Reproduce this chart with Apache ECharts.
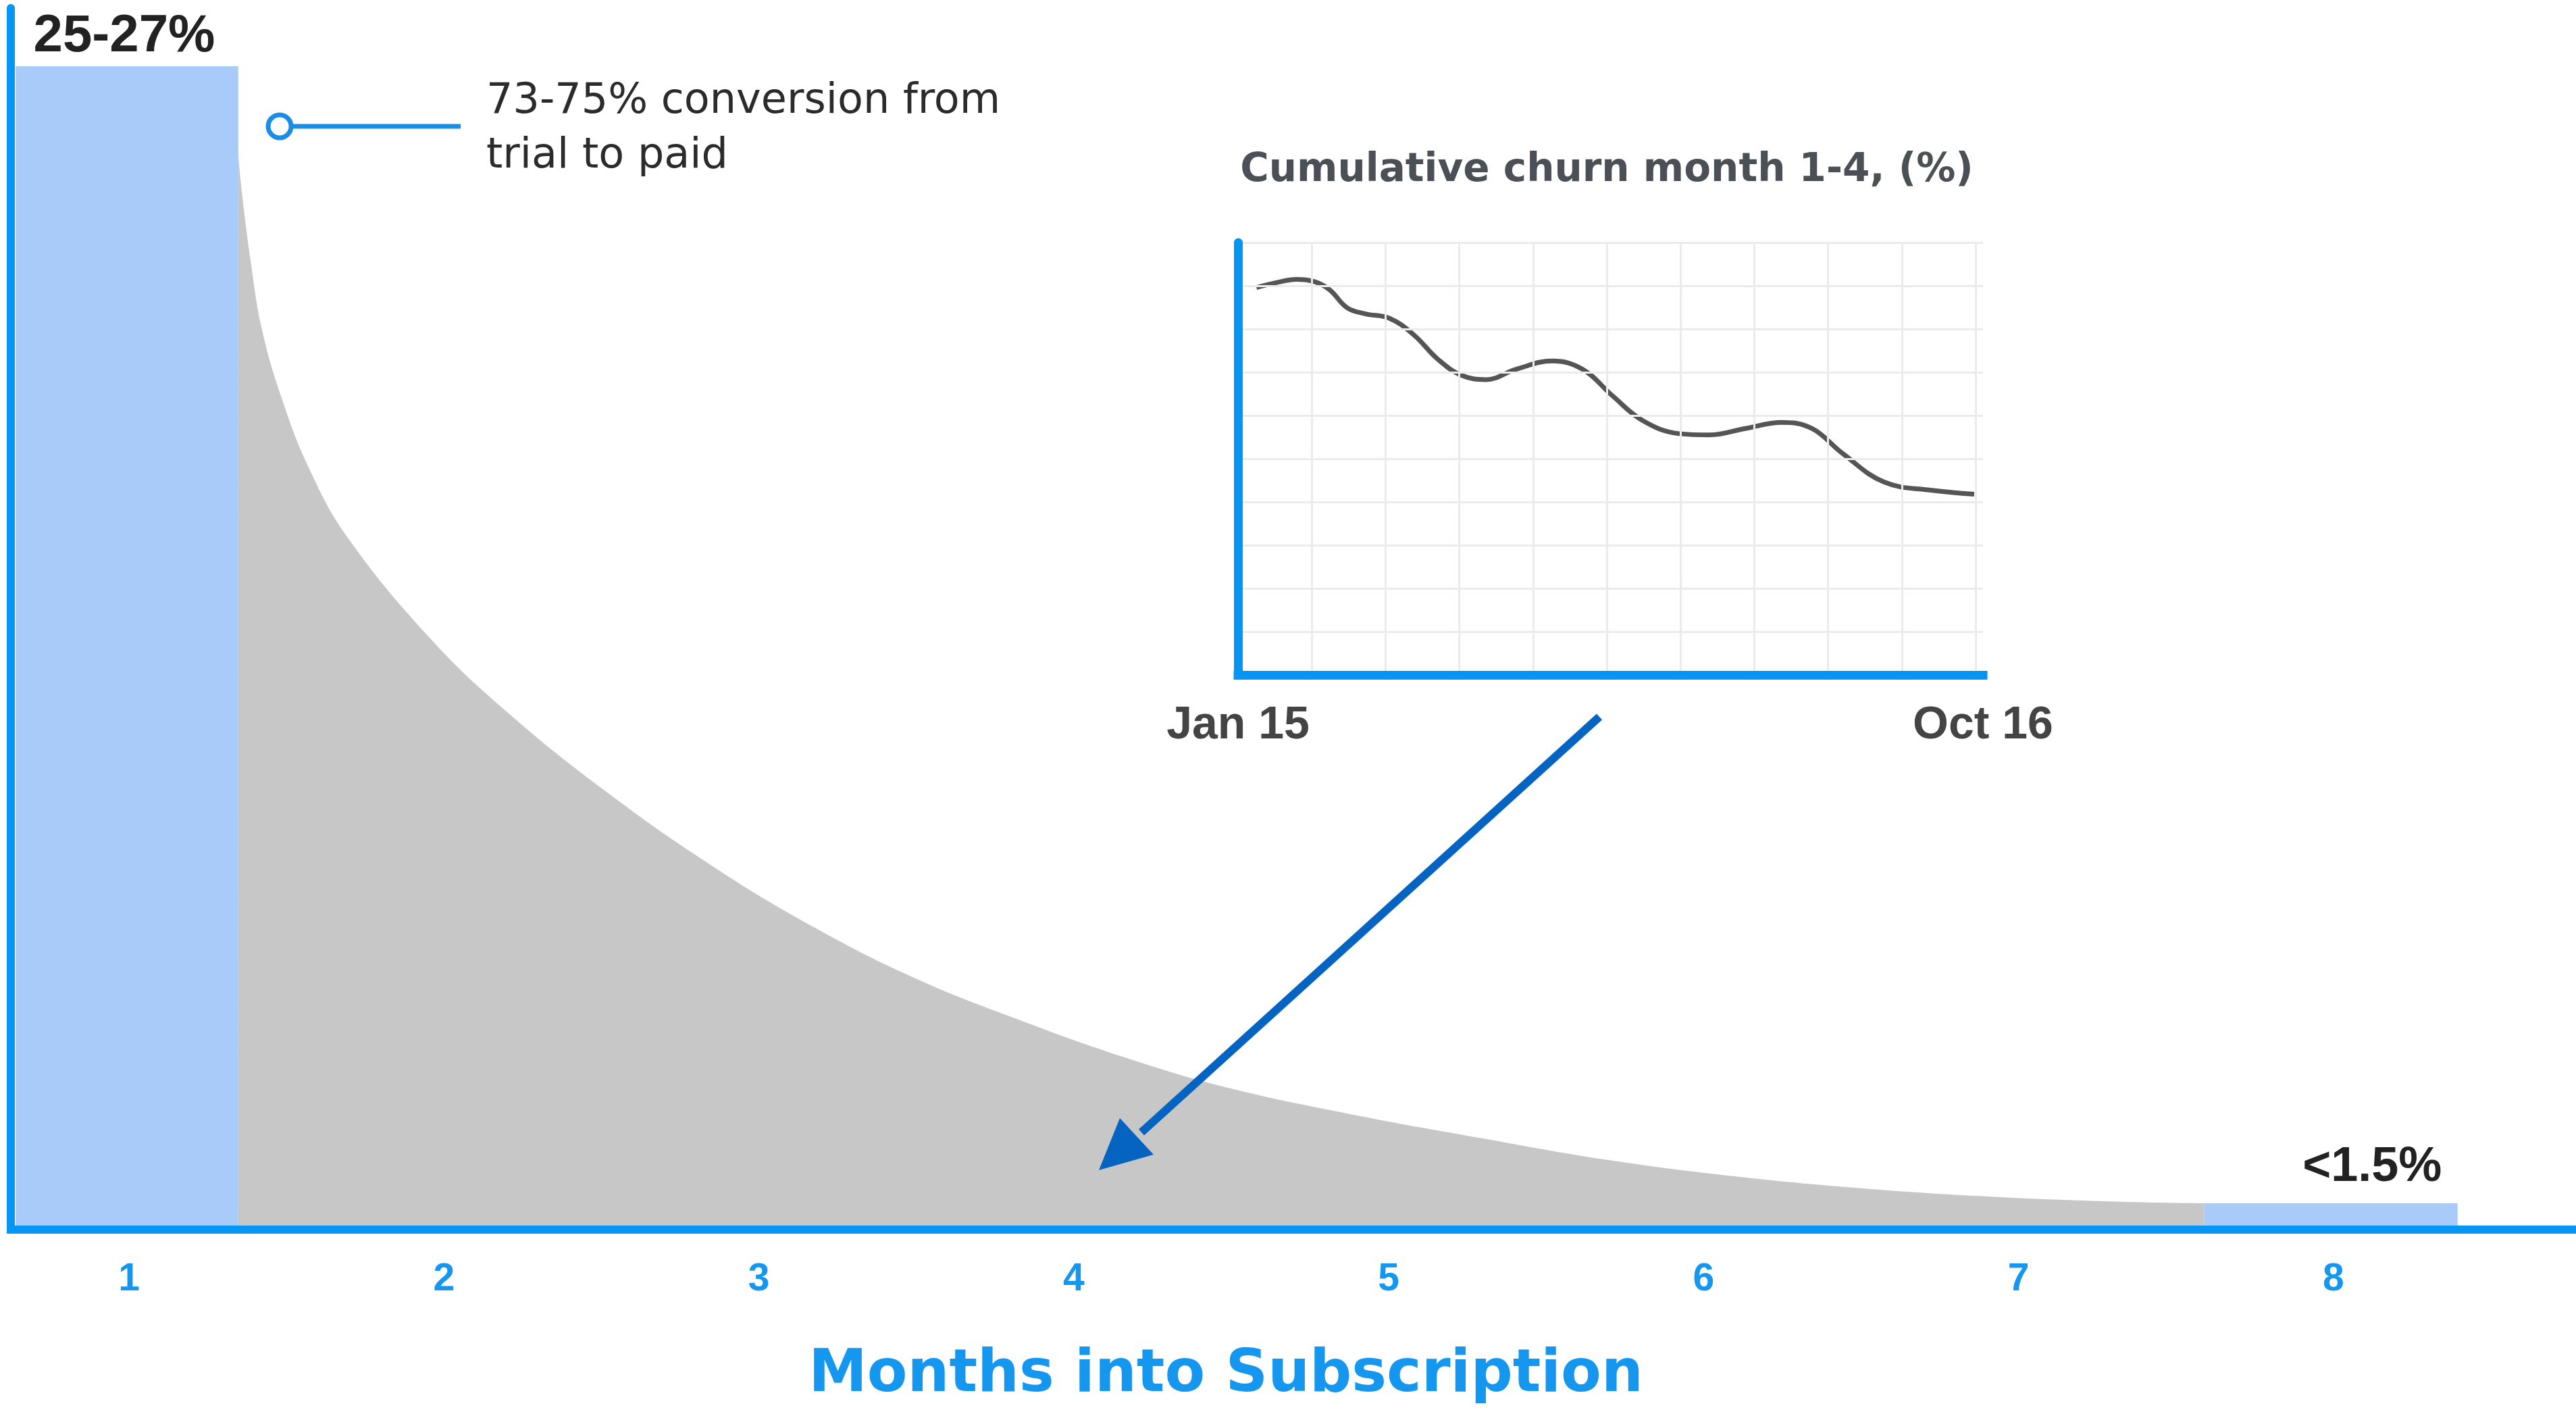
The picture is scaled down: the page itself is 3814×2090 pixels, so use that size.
<!DOCTYPE html>
<html>
<head>
<meta charset="utf-8">
<title>Months into Subscription</title>
<script src="https://cdn.jsdelivr.net/npm/echarts@6/dist/echarts.min.js"></script>
<style>
  html, body { margin: 0; padding: 0; background: #fff; }
  #chart { width: 3814px; height: 2090px; }
</style>
</head>
<body>
<div id="chart"></div>
<script>
// main chart: months into subscription
const months = [1, 2, 3, 4, 5, 6, 7, 8]
const barStart = [0.64, 7.59]
const barEnd = [1.347, 8.394]
const barValue = [26, 0.59]
const barLabels = ['25-27%', '<1.5%']

// grey decay area between the two bars
const curveX = [1.347, 1.358, 1.386, 1.422, 1.485, 1.57, 1.691, 1.954, 2.195, 2.52, 2.849, 3.177,
  3.505, 3.833, 4.161, 4.489, 4.879, 5.289, 5.701, 6.11, 6.522, 6.932, 7.341, 7.59]
const curveY = [24.02, 23.21, 21.66, 20.12, 18.58, 17.04, 15.5, 13.23, 11.6, 9.76, 8.14, 6.75,
  5.59, 4.67, 3.85, 3.17, 2.58, 2.05, 1.55, 1.18, 0.91, 0.73, 0.62, 0.59]

// inset: cumulative churn month 1-4
const churnX = [0.25, 0.54, 0.79, 1.03, 1.24, 1.48, 1.73, 2.05, 2.38, 2.71, 3.03, 3.36, 3.77,
  4.26, 4.67, 5.08, 5.49, 5.98, 6.39, 6.88, 7.37, 7.78, 8.19, 8.76, 9.41, 9.98]
const churnY = [8.96, 9.08, 9.15, 9.1, 8.91, 8.49, 8.35, 8.25, 7.87, 7.3, 6.93, 6.83, 7.07,
  7.26, 7.07, 6.45, 5.88, 5.58, 5.55, 5.7, 5.84, 5.7, 5.13, 4.46, 4.27, 4.18]
const churnTicks = ['Jan 15', 'Oct 16']
const churnGrid = [0, 1, 2, 3, 4, 5, 6, 7, 8, 9, 10]

const axisBlue = '#0596f5'
const labelBlue = '#1597ef'
const barBlue = '#a9cbfa'
const areaGrey = '#c7c7c7'
const arrowBlue = '#0563c1'
const noteBlue = '#1a8ee6'

const labelOffsets = [[-4, 0], [61, 0]]
const labelDistances = [5, 17]

const chart = echarts.init(document.getElementById('chart'), null, { renderer: 'canvas' })

const option = {
  animation: false,
  backgroundColor: '#fff',
  title: {
    text: 'Cumulative churn month 1-4, (%)',
    left: 2379,
    top: 224,
    padding: 0,
    textAlign: 'center',
    textStyle: { fontFamily: 'DejaVu Sans', fontWeight: 'bold', fontSize: 58, color: '#4b4f56' }
  },
  grid: [
    { left: 16, right: 0, top: 12, bottom: 270 },
    { left: 1833, right: 878, top: 359, bottom: 1091 }
  ],
  xAxis: [
    {
      type: 'value',
      gridIndex: 0,
      min: 0.6247,
      max: 8.77,
      z: 5,
      axisLine: { show: true, lineStyle: { color: axisBlue, width: 12, cap: 'square' } },
      axisTick: { show: false },
      splitLine: { show: false },
      axisLabel: {
        customValues: months,
        margin: 46,
        color: labelBlue,
        fontFamily: 'Liberation Sans',
        fontWeight: 'bold',
        fontSize: 57
      },
      name: 'Months into Subscription',
      nameLocation: 'middle',
      nameGap: 173,
      nameTextStyle: {
        color: labelBlue,
        fontFamily: 'DejaVu Sans',
        fontWeight: 'bold',
        fontSize: 87,
        padding: [0, 200, 0, 0]
      }
    },
    {
      type: 'value',
      gridIndex: 1,
      min: 0,
      max: 10.1,
      z: 5,
      axisLine: { show: true, lineStyle: { color: axisBlue, width: 13, cap: 'square' } },
      axisTick: { show: false, customValues: churnGrid },
      splitLine: { show: true, lineStyle: { color: '#ebebeb', width: 3 } },
      axisLabel: {
        customValues: [0, 10.1],
        formatter: (v) => (v === 0 ? churnTicks[0] : churnTicks[1]),
        margin: 41,
        color: '#444',
        fontFamily: 'Liberation Sans',
        fontWeight: 'bold',
        fontSize: 68
      }
    }
  ],
  yAxis: [
    {
      type: 'value',
      gridIndex: 0,
      min: 0,
      max: 27.3,
      z: 5,
      axisLine: { show: true, lineStyle: { color: axisBlue, width: 12 } },
      axisTick: { show: false },
      axisLabel: { show: false },
      splitLine: { show: false }
    },
    {
      type: 'value',
      gridIndex: 1,
      min: 0,
      max: 10,
      interval: 1,
      z: 5,
      axisLine: { show: true, lineStyle: { color: axisBlue, width: 13 } },
      axisTick: { show: false },
      axisLabel: { show: false },
      splitLine: { show: true, lineStyle: { color: '#ebebeb', width: 3 } }
    }
  ],
  series: [
    {
      type: 'custom',
      xAxisIndex: 0,
      yAxisIndex: 0,
      z: 2,
      data: barStart.map((s, i) => [s, barEnd[i], barValue[i]]),
      encode: { x: [0, 1], y: 2 },
      renderItem: (params, api) => {
        const i = params.dataIndex
        const p0 = api.coord([api.value(0), api.value(2)])
        const p1 = api.coord([api.value(1), 0])
        return {
          type: 'rect',
          shape: { x: p0[0], y: p0[1], width: p1[0] - p0[0], height: p1[1] - p0[1] },
          style: { fill: barBlue },
          textContent: {
            style: {
              text: barLabels[i],
              fill: '#222',
              fontFamily: 'Liberation Sans',
              fontWeight: 'bold',
              fontSize: i === 0 ? 78 : 72
            }
          },
          textConfig: { position: 'top', distance: labelDistances[i], offset: labelOffsets[i] }
        }
      }
    },
    {
      type: 'line',
      xAxisIndex: 0,
      yAxisIndex: 0,
      z: 2,
      data: curveX.map((x, i) => [x, curveY[i]]),
      smooth: 0.4,
      showSymbol: false,
      symbol: 'none',
      lineStyle: { width: 0, opacity: 0 },
      areaStyle: { color: areaGrey, opacity: 1 }
    },
    {
      type: 'line',
      xAxisIndex: 1,
      yAxisIndex: 1,
      z: 3,
      data: churnX.map((x, i) => [x, churnY[i]]),
      smooth: 0.4,
      showSymbol: false,
      symbol: 'none',
      lineStyle: { color: '#555', width: 7 }
    }
  ],
  graphic: [
    { type: 'line', z: 10, shape: { x1: 434, y1: 187, x2: 682, y2: 187 }, style: { stroke: noteBlue, lineWidth: 7 } },
    { type: 'circle', z: 11, shape: { cx: 414, cy: 187, r: 17 }, style: { fill: '#fff', stroke: noteBlue, lineWidth: 7 } },
    {
      type: 'text', z: 10, x: 720, y: 110,
      style: {
        text: '73-75% conversion from\ntrial to paid',
        fill: '#2b2b2b',
        font: '62px "DejaVu Sans"',
        lineHeight: 81,
        verticalAlign: 'top'
      }
    },
    { type: 'line', z: 10, shape: { x1: 2368, y1: 1061, x2: 1690, y2: 1676 }, style: { stroke: arrowBlue, lineWidth: 12 } },
    { type: 'polygon', z: 10, shape: { points: [[1627, 1732], [1658, 1655], [1708, 1709]] }, style: { fill: arrowBlue } }
  ]
}

chart.setOption(option)
window.addEventListener('resize', () => chart.resize())
</script>
</body>
</html>
